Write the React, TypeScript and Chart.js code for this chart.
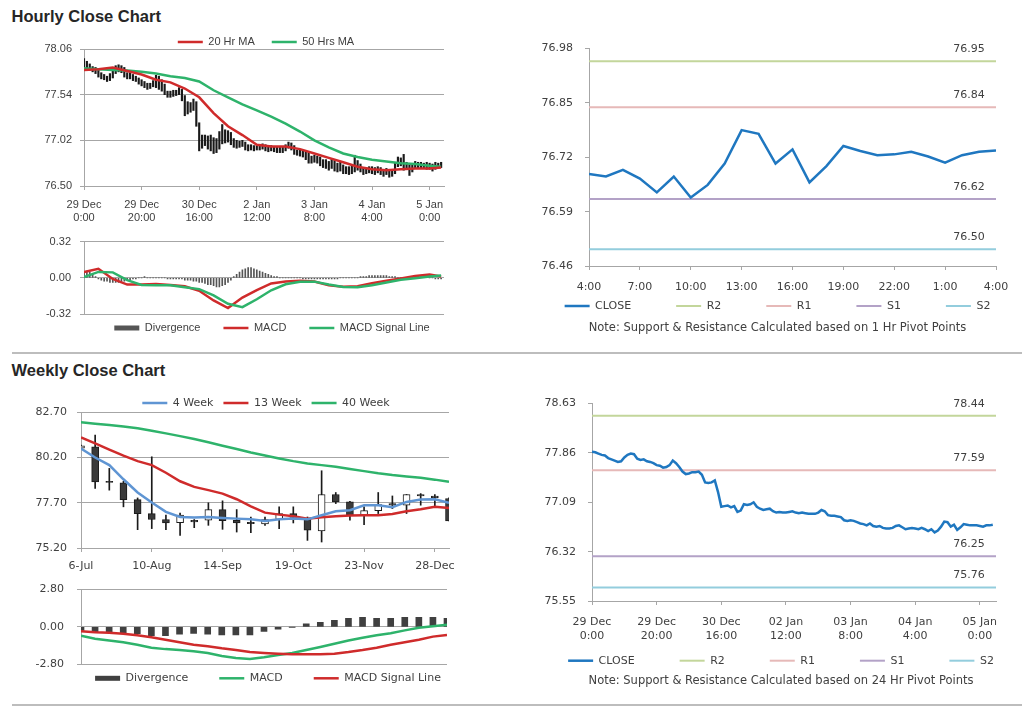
import React, { useEffect, useRef } from 'react';
import { Chart, registerables } from 'chart.js';

Chart.register(...registerables);

// ---------------- Hourly data (29 Dec 0:00 .. 5 Jan, trading hours) ----------------
const HOUR_MAX = 125;
const HOUR_TICKS = [0, 20, 40, 60, 80, 100, 120];
const HOUR_TICK_LABELS = [['29 Dec', '0:00'], ['29 Dec', '20:00'], ['30 Dec', '16:00'], ['2 Jan', '12:00'], ['3 Jan', '8:00'], ['4 Jan', '4:00'], ['5 Jan', '0:00']];
const HOUR_TICK_LABELS_24 = [['29 Dec', '0:00'], ['29 Dec', '20:00'], ['30 Dec', '16:00'], ['02 Jan', '12:00'], ['03 Jan', '8:00'], ['04 Jan', '4:00'], ['05 Jan', '0:00']];

const HOURLY_CLOSE = [
  77.88, 77.87, 77.85, 77.83, 77.82, 77.78, 77.76, 77.74, 77.72, 77.73,
  77.79, 77.83, 77.85, 77.84, 77.77, 77.75, 77.76, 77.73, 77.72, 77.70,
  77.67, 77.66, 77.63, 77.64, 77.67, 77.74, 77.70, 77.64, 77.57, 77.53,
  77.54, 77.56, 77.56, 77.57, 77.52, 77.40, 77.39, 77.40, 77.43, 77.25,
  77.02, 77.03, 77.04, 77.01, 77.03, 76.94, 76.96, 77.06, 77.05, 77.06,
  77.09, 77.02, 76.99, 76.97, 76.98, 76.99, 76.95, 76.93, 76.94, 76.93,
  76.93, 76.94, 76.95, 76.93, 76.92, 76.93, 76.92, 76.91, 76.91, 76.91,
  76.93, 76.97, 76.95, 76.89, 76.88, 76.88, 76.87, 76.86, 76.81, 76.80,
  76.81, 76.80, 76.78, 76.76, 76.75, 76.73, 76.76, 76.72, 76.71, 76.72,
  76.69, 76.68, 76.68, 76.69, 76.72, 76.73, 76.70, 76.67, 76.68, 76.69,
  76.68, 76.67, 76.69, 76.67, 76.64, 76.67, 76.62, 76.65, 76.71, 76.79,
  76.78, 76.71, 76.74, 76.66, 76.70, 76.75, 76.74, 76.73, 76.73, 76.73,
  76.72, 76.71, 76.73, 76.73, 76.74,
];
const HOURLY_HIGH = [
  77.95, 77.92, 77.89, 77.86, 77.85, 77.83, 77.79, 77.77, 77.75, 77.78,
  77.84, 77.87, 77.88, 77.87, 77.85, 77.79, 77.79, 77.77, 77.75, 77.73,
  77.71, 77.69, 77.67, 77.67, 77.70, 77.76, 77.75, 77.71, 77.66, 77.58,
  77.58, 77.59, 77.59, 77.62, 77.60, 77.53, 77.46, 77.45, 77.49, 77.46,
  77.22, 77.08, 77.08, 77.07, 77.08, 77.05, 77.04, 77.12, 77.20, 77.14,
  77.13, 77.11, 77.04, 77.02, 77.01, 77.02, 77.00, 76.97, 76.97, 76.96,
  76.96, 76.97, 76.98, 76.97, 76.95, 76.96, 76.95, 76.94, 76.94, 76.94,
  76.97, 77.00, 76.99, 76.96, 76.91, 76.91, 76.90, 76.89, 76.88, 76.84,
  76.85, 76.84, 76.83, 76.80, 76.80, 76.78, 76.81, 76.79, 76.76, 76.77,
  76.74, 76.72, 76.72, 76.73, 76.85, 76.79, 76.75, 76.71, 76.71, 76.72,
  76.72, 76.71, 76.72, 76.71, 76.69, 76.70, 76.68, 76.68, 76.76, 76.83,
  76.82, 76.86, 76.77, 76.74, 76.74, 76.78, 76.77, 76.77, 76.76, 76.77,
  76.76, 76.75, 76.77, 76.76, 76.77,
];
const HOURLY_LOW = [
  77.82, 77.84, 77.82, 77.80, 77.78, 77.74, 77.72, 77.71, 77.69, 77.70,
  77.73, 77.78, 77.80, 77.79, 77.74, 77.72, 77.72, 77.70, 77.69, 77.66,
  77.64, 77.62, 77.60, 77.61, 77.63, 77.62, 77.60, 77.58, 77.54, 77.51,
  77.51, 77.52, 77.53, 77.54, 77.47, 77.30, 77.32, 77.34, 77.36, 77.18,
  76.90, 76.93, 76.96, 76.92, 76.90, 76.87, 76.88, 76.92, 76.98, 76.99,
  77.00, 76.97, 76.94, 76.93, 76.94, 76.95, 76.91, 76.90, 76.91, 76.90,
  76.91, 76.91, 76.92, 76.90, 76.89, 76.90, 76.89, 76.88, 76.88, 76.88,
  76.90, 76.93, 76.91, 76.86, 76.85, 76.84, 76.83, 76.80, 76.76, 76.76,
  76.77, 76.76, 76.73, 76.71, 76.70, 76.68, 76.70, 76.67, 76.66, 76.67,
  76.64, 76.64, 76.63, 76.64, 76.66, 76.68, 76.66, 76.63, 76.64, 76.65,
  76.64, 76.63, 76.65, 76.63, 76.61, 76.63, 76.60, 76.61, 76.64, 76.72,
  76.73, 76.68, 76.69, 76.62, 76.66, 76.70, 76.70, 76.70, 76.70, 76.69,
  76.69, 76.67, 76.69, 76.70, 76.71,
];

// moving averages & MACD read at these hours
const SAMPLE_HOURS = [0, 5, 10, 15, 20, 25, 30, 35, 40, 45, 50, 55, 60, 65, 70, 75, 80, 85, 90, 95, 100, 105, 110, 115, 120, 124];
const MA20_HR = [77.82, 77.83, 77.85, 77.81, 77.77, 77.71, 77.68, 77.61, 77.51, 77.33, 77.18, 77.08, 76.97, 76.95, 76.95, 76.92, 76.87, 76.82, 76.77, 76.72, 76.69, 76.68, 76.69, 76.70, 76.70, 76.71];
const MA50_HR = [77.84, 77.83, 77.82, 77.815, 77.80, 77.78, 77.75, 77.73, 77.69, 77.59, 77.51, 77.43, 77.36, 77.29, 77.21, 77.12, 77.02, 76.94, 76.87, 76.83, 76.80, 76.78, 76.76, 76.75, 76.73, 76.72];
const MACD_HR = [0.05, 0.08, -0.01, -0.06, -0.06, -0.055, -0.063, -0.075, -0.115, -0.2, -0.268, -0.175, -0.11, -0.05, -0.033, -0.026, -0.032, -0.067, -0.079, -0.075, -0.048, -0.025, -0.005, 0.015, 0.028, 0.012];
const SIGNAL_HR = [0.006, 0.052, 0.048, -0.02, -0.063, -0.065, -0.065, -0.083, -0.1, -0.155, -0.23, -0.26, -0.19, -0.11, -0.057, -0.034, -0.034, -0.06, -0.082, -0.084, -0.066, -0.042, -0.018, -0.004, 0.012, 0.02];
const DIVERGENCE_HR = [
  0.05, 0.06, 0.05, 0.03, 0.01, -0.01, -0.02, -0.03, -0.03, -0.04,
  -0.04, -0.04, -0.04, -0.03, -0.03, -0.02, -0.02, -0.01, -0.01, 0.00,
  0.00, 0.01, 0.00, 0.00, 0.00, 0.00, 0.00, 0.00, 0.00, -0.01,
  -0.01, -0.01, -0.01, -0.01, -0.01, -0.02, -0.02, -0.02, -0.03, -0.03,
  -0.04, -0.04, -0.05, -0.06, -0.06, -0.07, -0.08, -0.08, -0.07, -0.06,
  -0.04, -0.02, 0.01, 0.03, 0.05, 0.07, 0.08, 0.09, 0.09, 0.08,
  0.07, 0.06, 0.05, 0.04, 0.03, 0.02, 0.01, 0.01, 0.00, 0.00,
  0.00, 0.00, 0.00, 0.00, 0.00, 0.00, -0.01, -0.01, -0.01, -0.01,
  -0.01, -0.01, -0.01, -0.01, -0.01, -0.01, -0.01, -0.01, -0.01, 0.00,
  0.00, 0.00, 0.00, 0.00, 0.00, 0.00, 0.01, 0.01, 0.01, 0.02,
  0.02, 0.02, 0.02, 0.02, 0.02, 0.02, 0.01, 0.01, 0.01, 0.00,
  0.00, 0.00, 0.00, 0.01, 0.01, 0.01, 0.01, 0.01, 0.01, 0.01,
  0.00, 0.00, -0.01, -0.01, -0.01,
];
const HOURLY_Y_TICKS = [76.5, 77.02, 77.54, 78.06];
const MACD_HR_TICKS = [-0.32, 0, 0.32];

// ---------------- 1 Hr pivot chart ----------------
const PIVOT1_TICKS = [0, 3, 6, 9, 12, 15, 18, 21, 24];
const PIVOT1_TICK_LABELS = ['4:00', '7:00', '10:00', '13:00', '16:00', '19:00', '22:00', '1:00', '4:00'];
const PIVOT1_CLOSE = [76.680, 76.674, 76.690, 76.669, 76.636, 76.674, 76.624, 76.654, 76.705, 76.785, 76.776, 76.705, 76.739, 76.660, 76.699, 76.747, 76.735, 76.725, 76.727, 76.733, 76.722, 76.707, 76.725, 76.733, 76.736];
const LEVEL_NAMES = ['R2', 'R1', 'S1', 'S2'];
const PIVOT1_LEVELS = [76.95, 76.84, 76.62, 76.50];
const PIVOT1_Y_TICKS = [76.46, 76.59, 76.72, 76.85, 76.98];
const NOTE_1H = 'Note: Support & Resistance Calculated based on 1 Hr Pivot Points';

// ---------------- 24 Hr pivot chart ----------------
const PIVOT24_LEVELS = [78.44, 77.59, 76.25, 75.76];
const PIVOT24_Y_TICKS = [75.55, 76.32, 77.09, 77.86, 78.63];
const NOTE_24H = 'Note: Support & Resistance Calculated based on 24 Hr Pivot Points';

// ---------------- Weekly data (6-Jul .. 4-Jan) ----------------
const WEEK_MAX = 26;
const WEEK_TICKS = [0, 5, 10, 15, 20, 25];
const WEEK_TICK_LABELS = ['6-Jul', '10-Aug', '14-Sep', '19-Oct', '23-Nov', '28-Dec'];
const W_OPEN = [80.70, 80.78, 78.87, 78.79, 77.87, 77.10, 76.77, 76.60, 76.73, 76.73, 77.32, 76.73, 76.62, 76.53, 76.77, 77.10, 76.82, 76.14, 78.15, 77.74, 77.01, 77.26, 77.65, 77.56, 78.15, 78.07, 77.93];
const W_HIGH = [80.88, 81.43, 79.59, 78.88, 77.96, 80.23, 77.01, 77.13, 76.77, 77.69, 77.80, 77.32, 76.91, 76.91, 77.47, 77.47, 76.91, 79.46, 78.26, 77.78, 77.47, 78.26, 78.07, 78.15, 78.20, 78.15, 77.96];
const W_LOW = [80.66, 78.48, 78.39, 77.47, 76.21, 76.27, 76.21, 75.90, 76.32, 76.45, 76.23, 76.08, 76.05, 76.45, 76.27, 76.58, 75.62, 75.53, 77.65, 76.73, 76.49, 77.10, 77.37, 77.10, 77.56, 77.47, 76.69];
const W_CLOSE = [80.84, 78.85, 78.81, 77.87, 77.10, 76.77, 76.58, 77.01, 76.64, 77.32, 76.71, 76.58, 76.54, 76.77, 77.10, 76.88, 76.18, 78.15, 77.74, 77.01, 77.26, 77.60, 77.56, 78.15, 78.07, 77.96, 76.69];
const MA4_W = [80.69, 80.19, 79.77, 78.99, 78.26, 77.71, 77.19, 76.91, 76.88, 76.91, 76.86, 76.82, 76.78, 76.69, 76.78, 76.82, 76.78, 77.01, 77.23, 77.28, 77.56, 77.56, 77.45, 77.74, 77.87, 77.89, 77.69];
const MA13_W = [81.30, 80.97, 80.62, 80.29, 79.99, 79.77, 79.35, 78.88, 78.57, 78.39, 78.20, 77.89, 77.50, 77.15, 77.04, 76.95, 76.82, 76.89, 76.95, 76.99, 77.01, 77.01, 77.08, 77.23, 77.34, 77.47, 77.41];
const MA40_W = [82.13, 82.05, 81.98, 81.90, 81.80, 81.67, 81.52, 81.37, 81.21, 81.03, 80.84, 80.66, 80.47, 80.30, 80.14, 79.99, 79.86, 79.77, 79.68, 79.56, 79.44, 79.32, 79.22, 79.14, 79.07, 78.97, 78.85];
const WEEKLY_Y_TICKS = [75.2, 77.7, 80.2, 82.7];
const MACD_W = [-0.67, -0.90, -1.03, -1.17, -1.35, -1.57, -1.68, -1.75, -1.84, -1.97, -2.20, -2.35, -2.42, -2.29, -2.13, -1.97, -1.75, -1.52, -1.28, -1.03, -0.83, -0.63, -0.49, -0.27, -0.07, 0.04, 0.15];
const SIGNAL_W = [-0.34, -0.41, -0.45, -0.52, -0.63, -0.79, -0.97, -1.17, -1.35, -1.46, -1.62, -1.75, -1.90, -1.97, -2.02, -2.06, -2.06, -2.06, -2.02, -1.90, -1.75, -1.57, -1.35, -1.17, -0.97, -0.74, -0.61];
const DIVERGENCE_W = [-0.27, -0.38, -0.38, -0.45, -0.52, -0.67, -0.67, -0.56, -0.49, -0.56, -0.61, -0.61, -0.61, -0.34, -0.18, -0.03, 0.22, 0.34, 0.49, 0.63, 0.72, 0.63, 0.63, 0.72, 0.72, 0.72, 0.63];
const MACD_W_TICKS = [-2.8, 0, 2.8];

// ---------------- styling ----------------
const SANS = "'Liberation Sans', Arial, sans-serif";
const DEJA = "'DejaVu Sans', Verdana, sans-serif";
const TEXT = '#404040';
const GRID = '#a6a6a6';
const RED = '#cf2b2b';
const GREEN = '#2eb36b';
const BLUE_4W = '#5f95d3';
const CLOSE_BLUE = '#1f77c0';
const LEVEL_COLORS = ['#c3d69b', '#e6b9b8', '#b3a2c7', '#93cddd'];

const seq = (xs: number[], ys: number[]) => ys.map((y, i) => ({ x: xs[i], y }));
const byIndex = (ys: number[]) => ys.map((y, i) => ({ x: i, y }));

function lineSet(label: string, data: any[], color: string, width: number, order: number) {
  return {
    type: 'line', label, data, order,
    borderColor: color, backgroundColor: color, borderWidth: width,
    pointRadius: 0, pointHoverRadius: 0, pointHitRadius: 0,
    pointStyle: 'line', pointBorderColor: color, pointBackgroundColor: color, pointBorderWidth: width,
    tension: 0, fill: false,
  };
}

function yAxis(ticks: number[], width: number, pad: number, gridOn: boolean, family: string) {
  return {
    type: 'linear', position: 'left', min: ticks[0], max: ticks[ticks.length - 1],
    afterBuildTicks: (s: any) => { s.ticks = ticks.map((v) => ({ value: v })); },
    afterFit: (s: any) => { s.width = width; },
    ticks: { padding: pad, color: TEXT, font: { family, size: 11 }, callback: (v: any) => Number(v).toFixed(2) },
    grid: { color: GRID, lineWidth: 1, drawOnChartArea: gridOn, drawTicks: true, tickLength: 4 },
    border: { display: true, color: GRID, width: 1 },
  };
}

function xAxis(max: number, ticks: number[], labels: any[], pad: number, height: number, family: string) {
  return {
    type: 'linear', position: 'bottom', min: 0, max, offset: false,
    afterBuildTicks: (s: any) => { s.ticks = ticks.map((v) => ({ value: v })); },
    afterFit: (s: any) => { s.height = height; },
    ticks: { autoSkip: false, maxRotation: 0, minRotation: 0, padding: pad, color: TEXT, font: { family, size: 11 }, callback: (_v: any, i: number) => labels[i] },
    grid: { color: GRID, offset: false, drawOnChartArea: false, drawTicks: true, tickLength: 4 },
    border: { display: true, color: GRID, width: 1 },
  };
}

function hiddenX(max: number) {
  return { type: 'linear', min: 0, max, display: false, offset: false, grid: { offset: false } };
}

// invisible right-hand box: used to centre the legend where the original has it
function spacer(width: number) {
  return {
    type: 'linear', position: 'right', display: true,
    grid: { display: false }, border: { display: false }, ticks: { display: false },
    afterFit: (s: any) => { s.width = width; },
  };
}

function legendOpts(position: string, pad: number, family: string, names: string[]) {
  return {
    display: true, position,
    labels: {
      usePointStyle: true, pointStyleWidth: 25, boxHeight: 5, padding: pad,
      color: TEXT, font: { family, size: 11 },
      filter: (it: any) => names.includes(it.text),
      sort: (a: any, b: any) => a.datasetIndex - b.datasetIndex,
    },
  };
}

// fine-tunes legend box height and vertical item offset
function tuneLegend(dy: number, shrink: number) {
  return {
    id: 'tuneLegend',
    afterInit(chart: any) {
      const lg = chart.legend;
      if (!lg) return;
      const fit = lg.fit.bind(lg);
      lg.fit = function () { fit(); this.height = Math.max(0, this.height - shrink); };
      const inner = lg._draw.bind(lg);
      lg._draw = function () { const c = this.ctx; c.save(); c.translate(0, dy); inner(); c.restore(); };
    },
  };
}

function levelLabels(levels: number[], family: string) {
  return {
    id: 'levelLabels',
    afterDatasetsDraw(chart: any) {
      const { ctx, chartArea, scales } = chart;
      ctx.save();
      ctx.font = `11px ${family}`;
      ctx.fillStyle = TEXT;
      ctx.textAlign = 'center';
      ctx.textBaseline = 'middle';
      levels.forEach((v) => ctx.fillText(v.toFixed(2), chartArea.right - 27, scales.y.getPixelForValue(v) - 12));
      ctx.restore();
    },
  };
}

function opts(padding: any, scales: any, plugins: any) {
  return {
    responsive: false, maintainAspectRatio: false, animation: false, devicePixelRatio: 1, events: [],
    layout: { padding },
    scales,
    plugins: { tooltip: { enabled: false }, ...plugins },
  };
}

// ---------------- chart configs ----------------
const hourlyPrice = () => ({
  type: 'line',
  data: {
    datasets: [
      lineSet('20 Hr MA', seq(SAMPLE_HOURS, MA20_HR), RED, 2.5, 0),
      lineSet('50 Hrs MA', seq(SAMPLE_HOURS, MA50_HR), GREEN, 2.5, 1),
      {
        type: 'bar', label: 'Range', order: 2, grouped: false, barThickness: 1.5,
        backgroundColor: '#1a1a1a',
        data: HOURLY_LOW.map((lo, i) => ({ x: i, y: [lo, HOURLY_HIGH[i]] })),
      },
    ],
  },
  options: opts({ left: 0, right: 4, top: 0.5, bottom: 2 }, {
    x: xAxis(HOUR_MAX, HOUR_TICKS, HOUR_TICK_LABELS, 8, 36, SANS),
    y: yAxis(HOURLY_Y_TICKS, 84, 8, true, SANS),
    yR: spacer(88),
  }, { legend: legendOpts('top', 17, SANS, ['20 Hr MA', '50 Hrs MA']) }),
  plugins: [tuneLegend(0, 8.5)],
});

const hourlyMacd = () => ({
  type: 'line',
  data: {
    datasets: [
      {
        type: 'bar', label: 'Divergence', order: 3, grouped: false, barThickness: 1,
        backgroundColor: '#555555', pointStyle: 'rect',
        data: byIndex(DIVERGENCE_HR),
      },
      lineSet('MACD', seq(SAMPLE_HOURS, MACD_HR), RED, 2.5, 1),
      lineSet('MACD Signal Line', seq(SAMPLE_HOURS, SIGNAL_HR), GREEN, 2.5, 0),
    ],
  },
  options: opts({ left: 0, right: 2, top: 12, bottom: 0 }, {
    x: hiddenX(HOUR_MAX),
    y: yAxis(MACD_HR_TICKS, 84, 9, true, SANS),
    yR: spacer(100),
  }, { legend: legendOpts('bottom', 23, SANS, ['Divergence', 'MACD', 'MACD Signal Line']) }),
  plugins: [tuneLegend(-14.5, 10)],
});

function pivotConfig(close: number[], max: number, ticks: number[], tickLabels: any[], levels: number[], yTicks: number[],
  padding: any, yWidth: number, xPad: number, xHeight: number, dy: number, note: string, notePadTop: number) {
  return {
    type: 'line',
    data: {
      datasets: [
        lineSet('CLOSE', byIndex(close), CLOSE_BLUE, 2.5, 0),
        ...levels.map((v, k) => lineSet(LEVEL_NAMES[k], [{ x: 0, y: v }, { x: max, y: v }], LEVEL_COLORS[k], 2, k + 1)),
      ],
    },
    options: opts(padding, {
      x: xAxis(max, ticks, tickLabels, xPad, xHeight, DEJA),
      y: yAxis(yTicks, yWidth, 12, false, DEJA),
      yR: spacer(55),
    }, {
      legend: legendOpts('bottom', 45, DEJA, ['CLOSE', ...LEVEL_NAMES]),
      title: {
        display: true, position: 'bottom', text: note, color: TEXT,
        font: { family: DEJA, size: 11.5, weight: 'normal' },
        padding: { top: notePadTop, bottom: 2 },
      },
    }),
    plugins: [tuneLegend(dy, 42), levelLabels(levels, DEJA)],
  };
}

const pivot1h = () => pivotConfig(PIVOT1_CLOSE, 24, PIVOT1_TICKS, PIVOT1_TICK_LABELS, PIVOT1_LEVELS, PIVOT1_Y_TICKS,
  { left: 9, right: 4, top: 17, bottom: 0.8 }, 85, 11, 28, -38.5, NOTE_1H, 3.4);

const pivot24h = () => pivotConfig(HOURLY_CLOSE, HOUR_MAX, HOUR_TICKS, HOUR_TICK_LABELS_24, PIVOT24_LEVELS, PIVOT24_Y_TICKS,
  { left: 16, right: 4, top: 17, bottom: 0.1 }, 81, 11, 46, -36.8, NOTE_24H, 3.1);

const weeklyPrice = () => ({
  type: 'line',
  data: {
    datasets: [
      lineSet('4 Week', byIndex(MA4_W), BLUE_4W, 2.5, 0),
      lineSet('13 Week', byIndex(MA13_W), RED, 2.5, 1),
      lineSet('40 Week', byIndex(MA40_W), GREEN, 2.5, 2),
      {
        type: 'bar', label: 'Wick', order: 6, grouped: false, barThickness: 1,
        backgroundColor: '#1a1a1a',
        data: W_LOW.map((lo, i) => ({ x: i, y: [lo, W_HIGH[i]] })),
      },
      {
        type: 'bar', label: 'Body', order: 5, grouped: false, barThickness: 7,
        borderColor: '#1a1a1a', borderWidth: 1, borderSkipped: false,
        backgroundColor: W_OPEN.map((o, i) => (W_CLOSE[i] >= o ? '#ffffff' : '#3a3a3a')),
        data: W_OPEN.map((o, i) => ({ x: i, y: [o, W_CLOSE[i]] })),
      },
    ],
  },
  options: opts({ left: 0, right: 2, top: 0.5, bottom: 1 }, {
    x: xAxis(WEEK_MAX, WEEK_TICKS, WEEK_TICK_LABELS, 8, 26, DEJA),
    y: yAxis(WEEKLY_Y_TICKS, 81, 10, true, DEJA),
    yR: spacer(83),
  }, { legend: legendOpts('top', 10, DEJA, ['4 Week', '13 Week', '40 Week']) }),
  plugins: [tuneLegend(0, 6.5)],
});

const weeklyMacd = () => ({
  type: 'line',
  data: {
    datasets: [
      {
        type: 'bar', label: 'Divergence', order: 3, grouped: false, barThickness: 6,
        backgroundColor: '#404040', pointStyle: 'rect',
        data: byIndex(DIVERGENCE_W),
      },
      lineSet('MACD', byIndex(MACD_W), GREEN, 2.5, 1),
      lineSet('MACD Signal Line', byIndex(SIGNAL_W), RED, 2.5, 0),
    ],
  },
  options: opts({ left: 0, right: 2, top: 10, bottom: 0 }, {
    x: hiddenX(WEEK_MAX),
    y: yAxis(MACD_W_TICKS, 81, 13, true, DEJA),
    yR: spacer(89),
  }, { legend: legendOpts('bottom', 31, DEJA, ['Divergence', 'MACD', 'MACD Signal Line']) }),
  plugins: [tuneLegend(-22.2, 30)],
});

// ---------------- components ----------------
type Box = { left: number; top: number; width: number; height: number };

function ChartCanvas({ box, make }: { box: Box; make: () => any }) {
  const ref = useRef<HTMLCanvasElement | null>(null);
  useEffect(() => {
    if (!ref.current) return;
    const chart = new Chart(ref.current, make());
    return () => chart.destroy();
  }, []);
  return (
    <canvas
      ref={ref}
      width={box.width}
      height={box.height}
      style={{ position: 'absolute', left: box.left, top: box.top, width: box.width, height: box.height }}
    />
  );
}

const titleStyle: any = {
  position: 'absolute', left: 11.5, fontFamily: SANS, fontSize: 16.5, fontWeight: 'bold',
  lineHeight: 1, color: '#262626', whiteSpace: 'nowrap',
};
const ruleStyle: any = { position: 'absolute', left: 12, width: 1010, height: 2, background: '#bdbdbd' };

export default function App() {
  return (
    <div style={{ position: 'absolute', left: 0, top: 0, width: 1024, height: 706, overflow: 'hidden', background: '#ffffff' }}>
      <div style={{ ...titleStyle, top: 8 }}>Hourly Close Chart</div>
      <div style={{ ...titleStyle, top: 361.7 }}>Weekly Close Chart</div>
      <div style={{ ...ruleStyle, top: 352 }} />
      <div style={{ ...ruleStyle, top: 704 }} />
      <ChartCanvas box={{ left: 495, top: 30, width: 560, height: 308 }} make={pivot1h} />
      <ChartCanvas box={{ left: 495, top: 385, width: 560, height: 305 }} make={pivot24h} />
      <ChartCanvas box={{ left: 0, top: 19, width: 536, height: 205 }} make={hourlyPrice} />
      <ChartCanvas box={{ left: 0, top: 226, width: 546, height: 122 }} make={hourlyMacd} />
      <ChartCanvas box={{ left: 0, top: 387, width: 534, height: 188 }} make={weeklyPrice} />
      <ChartCanvas box={{ left: 0, top: 570, width: 538, height: 116 }} make={weeklyMacd} />
    </div>
  );
}
